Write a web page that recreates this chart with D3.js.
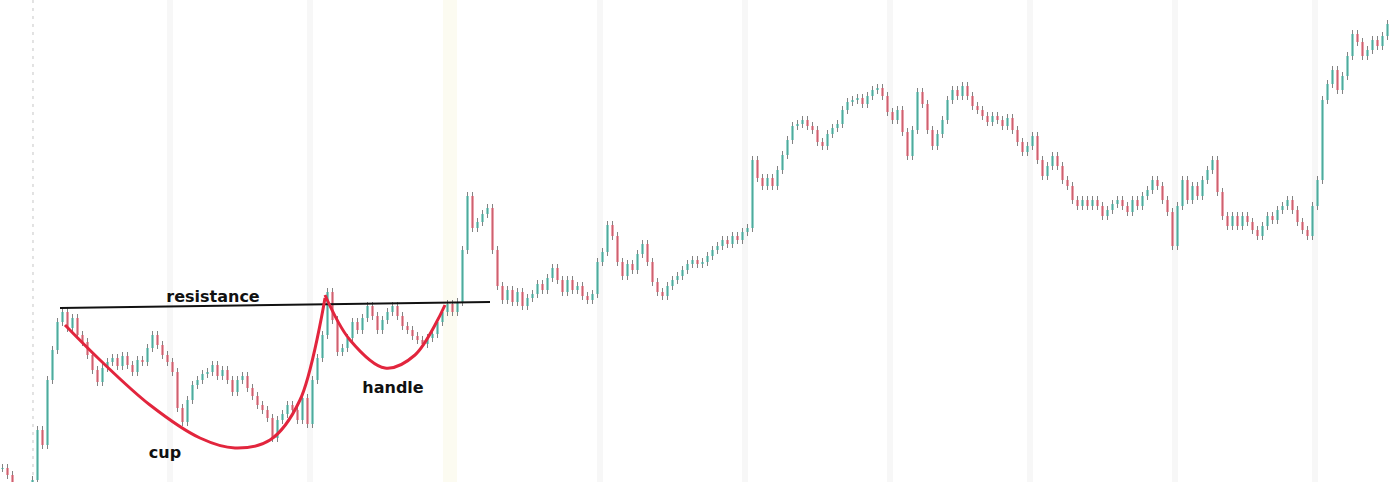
<!DOCTYPE html>
<html><head><meta charset="utf-8">
<script src="https://cdn.jsdelivr.net/npm/d3@7/dist/d3.min.js"></script>
<style>html,body{margin:0;padding:0;background:#fff;overflow:hidden}</style>
</head><body>
<svg id="chart" width="1389" height="482"></svg>
<script>
// closing prices, one per bar (arbitrary price units)
const closes = [14,7,-8,-13,-13,-10,2,52,37,102,132,160,170,154,164,147,140,127,112,100,114,120,124,116,126,117,110,122,120,134,147,137,127,120,110,74,60,82,97,102,108,110,117,106,112,102,90,102,106,94,86,77,72,64,44,62,68,77,72,62,84,58,102,124,147,190,162,130,134,144,160,152,164,176,166,152,162,170,176,166,156,152,146,142,138,144,148,160,170,178,170,180,232,286,254,260,268,274,232,196,182,192,180,190,176,184,188,198,192,204,214,202,190,202,192,196,186,182,188,220,230,257,246,220,206,218,212,228,238,220,200,190,186,196,202,206,212,218,222,218,220,226,232,236,242,238,246,242,250,254,322,304,296,304,296,312,327,342,356,358,362,356,352,340,336,348,354,358,372,380,382,384,378,386,392,394,386,370,362,372,350,326,352,390,378,352,336,348,362,382,392,386,396,386,376,372,366,360,366,362,356,364,352,340,330,336,346,322,306,316,326,316,302,296,282,276,282,276,282,276,266,272,278,282,276,270,282,276,286,292,302,296,282,270,236,276,302,282,296,286,302,312,322,290,266,256,266,256,266,260,252,246,256,266,262,272,276,282,272,260,252,246,276,302,382,398,412,392,406,426,448,440,426,432,442,436,446,458];
// annotation geometry in (bar index, price)
const resistance = [[12,174],[98,180]];
const cupPts = [[13,157],[20,122],[30,77],[40,44],[47,34],[54,42],[60,82],[65,184]];
const handlePts = [[65,187],[70,142],[77,114],[83,127],[89,177]];
const labels = [{t:"resistance",x:42.6,p:180},{t:"cup",x:33,p:24},{t:"handle",x:78.6,p:89}];
const separators = [6.6,34,62,90,120,149,178,206,235,263];

const W=1389,H=482;
const svg=d3.select("#chart");
const x=d3.scaleLinear().domain([0,278]).range([0,1390]);
const y=d3.scaleLinear().domain([0,482]).range([482,0]);
const bw=x(1)-x(0);

svg.append("defs").append("clipPath").attr("id","clip").append("rect").attr("width",W).attr("height",H);

// session separators
separators.forEach((s,i)=>{
  const cx=x(s);
  if(i===0){
    svg.append("line").attr("x1",cx).attr("x2",cx).attr("y1",0).attr("y2",H)
      .attr("stroke","#d0d0d0").attr("stroke-width",1.2).attr("stroke-dasharray","3,5");
  } else if(i===3){
    svg.append("rect").attr("x",cx-7).attr("y",0).attr("width",14).attr("height",H).attr("fill","#fcfbf1");
  } else {
    svg.append("rect").attr("x",cx-3).attr("y",0).attr("width",6).attr("height",H).attr("fill","#f7f7f7");
  }
});

const g=svg.append("g").attr("clip-path","url(#clip)");
const bars=closes.map((c,i)=>({i,o:i?closes[i-1]:c,c}));
g.selectAll("line.wick").data(bars).join("line").attr("class","wick")
  .attr("x1",d=>x(d.i)+bw/2).attr("x2",d=>x(d.i)+bw/2)
  .attr("y1",d=>y(Math.max(d.o,d.c))-4).attr("y2",d=>y(Math.min(d.o,d.c))+4)
  .attr("stroke","#5a5a5a").attr("stroke-width",1).attr("opacity",0.75);
g.selectAll("rect.body").data(bars).join("rect").attr("class","body")
  .attr("x",d=>x(d.i)+bw/2-1.2).attr("width",2.4)
  .attr("y",d=>y(Math.max(d.o,d.c))).attr("height",d=>Math.max(1,Math.abs(y(d.o)-y(d.c))))
  .attr("fill",d=>d.c>=d.o?"#45b3a3":"#dd5a6c").attr("opacity",0.8);

// annotations
const line=d3.line().x(d=>x(d[0])).y(d=>y(d[1]));
svg.append("path").attr("d",line(resistance)).attr("stroke","#111").attr("stroke-width",2).attr("fill","none");
const curve=d3.line().x(d=>x(d[0])).y(d=>y(d[1])).curve(d3.curveCatmullRom.alpha(0.5));
svg.append("path").attr("d",curve(cupPts)).attr("stroke","#e2253d").attr("stroke-width",3).attr("fill","none");
svg.append("path").attr("d",curve(handlePts)).attr("stroke","#e2253d").attr("stroke-width",3).attr("fill","none");
svg.selectAll("text.lbl").data(labels).join("text").attr("class","lbl")
  .attr("x",d=>x(d.x)).attr("y",d=>y(d.p)).attr("text-anchor","middle")
  .attr("font-family","DejaVu Sans, Verdana, sans-serif").attr("font-weight","bold").attr("font-size",16)
  .attr("fill","#111").text(d=>d.t);
</script>
</body></html>
